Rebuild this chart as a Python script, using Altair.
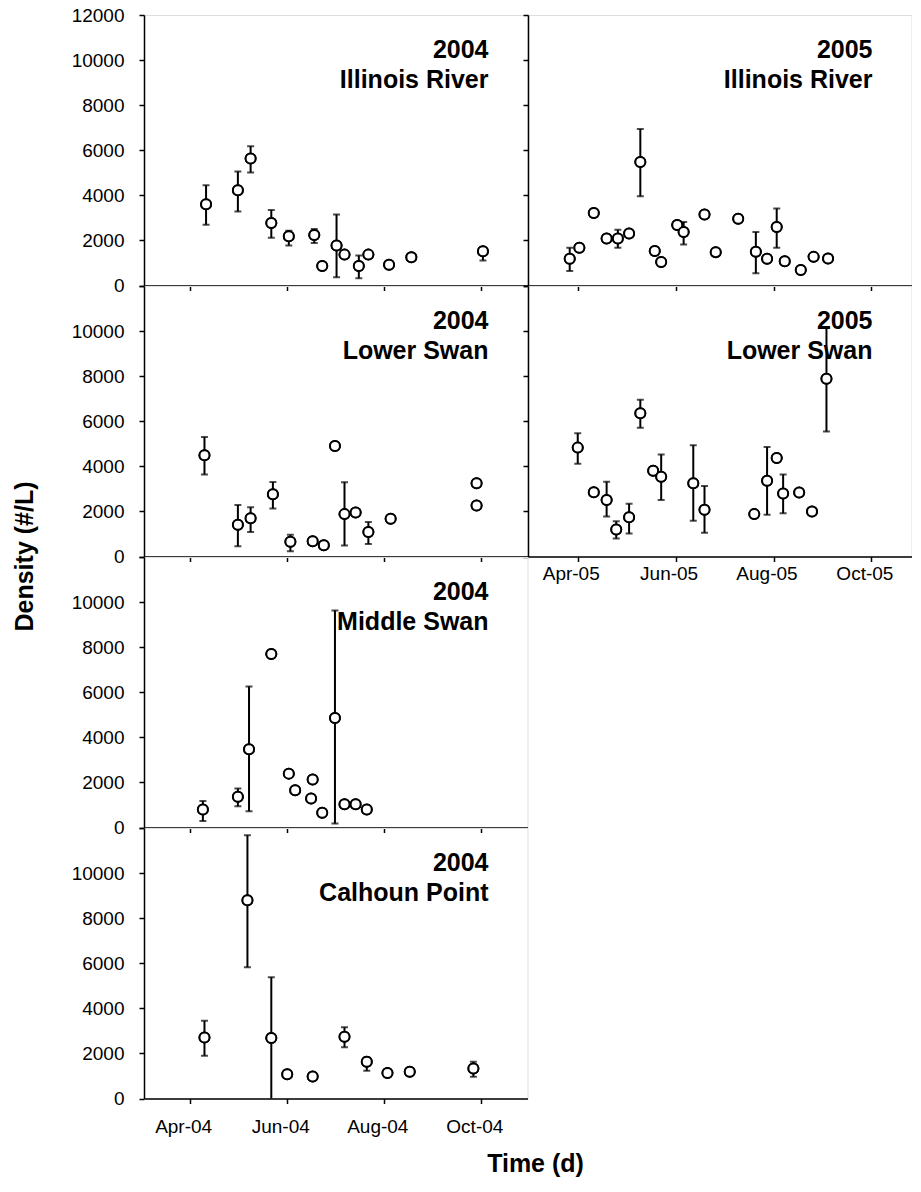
import altair as alt
import pandas as pd

# ---------------- data ----------------
il04_dates = ["2004-04-11", "2004-05-01", "2004-05-09", "2004-05-22", "2004-06-02", "2004-06-18",
              "2004-06-23", "2004-07-02", "2004-07-07", "2004-07-16", "2004-07-22", "2004-08-04",
              "2004-08-18", "2004-10-02"]
il04_vals = [3600, 4230, 5630, 2770, 2180, 2240, 860, 1770, 1370, 860, 1370, 920, 1250, 1520]
il04_lo = [2700, 3280, 5010, 2120, 1770, 1890, None, 370, None, 320, None, None, None, 1110]
il04_hi = [4450, 5060, 6180, 3350, 2430, 2510, None, 3150, None, 1330, None, None, None, 1700]

il05_dates = ["2005-03-27", "2005-04-02", "2005-04-11", "2005-04-19", "2005-04-26", "2005-05-03",
              "2005-05-10", "2005-05-19", "2005-05-23", "2005-06-02", "2005-06-06", "2005-06-19",
              "2005-06-26", "2005-07-10", "2005-07-21", "2005-07-28", "2005-08-03", "2005-08-08",
              "2005-08-18", "2005-08-26", "2005-09-04"]
il05_vals = [1190, 1670, 3220, 2090, 2090, 2310, 5480, 1530, 1040, 2680, 2370, 3150, 1480, 2960,
             1500, 1190, 2590, 1080, 690, 1270, 1200]
il05_lo = [640, None, None, None, 1670, None, 3960, None, None, None, 1820, None, None, None,
           540, None, 1670, None, None, None, None]
il05_hi = [1670, None, None, None, 2470, None, 6940, None, None, None, 2820, None, None, None,
           2370, None, 3420, None, None, None, None]

ls04_dates = ["2004-04-10", "2004-05-01", "2004-05-09", "2004-05-23", "2004-06-03", "2004-06-17",
              "2004-06-24", "2004-07-01", "2004-07-07", "2004-07-14", "2004-07-22", "2004-08-05",
              "2004-09-28", "2004-09-28"]
ls04_vals = [4490, 1410, 1700, 2760, 650, 675, 500, 4900, 1880, 1950, 1090, 1670, 3250, 2260]
ls04_lo = [3640, 455, 1090, 2130, 235, None, None, None, 485, None, 560, None, None, None]
ls04_hi = [5300, 2290, 2190, 3300, 970, None, None, None, 3290, None, 1530, None, None, None]

ls05_dates = ["2005-04-01", "2005-04-11", "2005-04-19", "2005-04-25", "2005-05-03", "2005-05-10",
              "2005-05-18", "2005-05-23", "2005-06-12", "2005-06-19", "2005-07-20", "2005-07-28",
              "2005-08-03", "2005-08-07", "2005-08-17", "2005-08-25", "2005-09-03"]
ls05_vals = [4830, 2850, 2510, 1200, 1740, 6350, 3800, 3540, 3250, 2070, 1880, 3360, 4370, 2800,
             2840, 2000, 7890]
ls05_lo = [4120, None, 1780, 800, 1020, 5710, None, 2510, 1590, 1050, None, 1850, None, 1920,
           None, None, 5550]
ls05_hi = [5470, None, 3320, 1560, 2340, 6950, None, 4520, 4930, 3130, None, 4860, None, 3640,
           None, None, 10160]

ms04_dates = ["2004-04-09", "2004-05-01", "2004-05-08", "2004-05-22", "2004-06-02", "2004-06-06",
              "2004-06-17", "2004-06-16", "2004-06-23", "2004-07-01", "2004-07-07", "2004-07-14",
              "2004-07-21"]
ms04_vals = [800, 1360, 3470, 7700, 2390, 1650, 2130, 1290, 650, 4860, 1030, 1030, 800]
ms04_lo = [290, 945, 720, None, None, None, None, None, None, 180, None, None, None]
ms04_hi = [1180, 1730, 6260, None, None, None, None, None, None, 9630, None, None, None]

cp04_dates = ["2004-04-10", "2004-05-07", "2004-05-22", "2004-06-01", "2004-06-17", "2004-07-07",
              "2004-07-21", "2004-08-03", "2004-08-17", "2004-09-26"]
cp04_vals = [2710, 8790, 2680, 1080, 980, 2740, 1630, 1130, 1190, 1330]
cp04_lo = [1900, 5820, -300, None, None, 2270, 1230, None, None, 965]
cp04_hi = [3450, 11680, 5380, None, None, 3160, 1820, None, None, 1630]

panel_years = ["2004", "2005", "2004", "2005", "2004", "2004"]
panel_sites = ["Illinois River", "Illinois River", "Lower Swan", "Lower Swan", "Middle Swan", "Calhoun Point"]
y_ticks = [0, 2000, 4000, 6000, 8000, 10000, 12000]
tick_months = [4, 6, 8, 10]

W = 383.5
H = 270.5
FONT = "Liberation Sans"


def make_df(dates, vals, lo, hi):
    return pd.DataFrame({
        "date": [d + "T00:00:00" for d in dates],
        "val": vals,
        "lo": lo,
        "hi": hi,
    })


def panel(df, idx, year, xdomain, show_xlabels, show_ylabels, top_label, xlabel_pad,
          ytitle=False, xtitle=False):
    xaxis_kw = dict(
        values=[alt.DateTime(year=year, month=m, date=1) for m in tick_months],
        format="%b-%y", labels=show_xlabels, tickSize=5, grid=False,
        labelFontSize=19, labelFont=FONT, labelOffset=-7, labelPadding=xlabel_pad,
        labelColor="black", domainColor="black", domainWidth=1.5,
        tickColor="black", tickWidth=1.5,
    )
    if xtitle:
        xaxis_kw.update(title="Time (d)", titleFont=FONT, titleFontSize=25,
                        titleFontWeight="bold", titleX=391, titleY=73,
                        titleAlign="center", titleBaseline="alphabetic", titleColor="black")
    else:
        xaxis_kw.update(title=None)
    yaxis_kw = dict(
        values=y_ticks, format="d", labels=show_ylabels, tickSize=5, grid=False,
        labelFontSize=19, labelFont=FONT, labelPadding=15, labelColor="black",
        domainColor="black", domainWidth=1.5, tickColor="black", tickWidth=1.5,
    )
    if not top_label:
        yaxis_kw["labelExpr"] = "datum.value == 12000 ? '' : datum.label"
    if ytitle:
        yaxis_kw.update(title="Density (#/L)", titleFont=FONT, titleFontSize=25,
                        titleFontWeight="bold", titleX=-120, titleY=541, titleAngle=270,
                        titleAlign="center", titleBaseline="middle", titleColor="black")
    else:
        yaxis_kw.update(title=None)

    x = alt.X("date:T", scale=alt.Scale(domain=xdomain), axis=alt.Axis(**xaxis_kw))
    yscale = alt.Scale(domain=[0, 12000], nice=False)
    y = alt.Y("val:Q", scale=yscale, axis=alt.Axis(**yaxis_kw))

    err = df.dropna(subset=["lo"])
    base_err = alt.Chart(err)
    rule = base_err.mark_rule(color="black", strokeWidth=2, clip=True).encode(
        x=alt.X("date:T"), y=alt.Y("lo:Q"), y2="hi:Q")
    cap_hi = base_err.mark_tick(color="black", orient="horizontal", size=7, thickness=2,
                                clip=True).encode(x=alt.X("date:T"), y=alt.Y("hi:Q"))
    cap_lo = base_err.mark_tick(color="black", orient="horizontal", size=7, thickness=2,
                                clip=True).encode(x=alt.X("date:T"), y=alt.Y("lo:Q"))
    pts = alt.Chart(df).mark_circle(fill="white", stroke="black", strokeWidth=2, size=100,
                                    opacity=1).encode(x=x, y=y)
    lab = pd.DataFrame({"year": [panel_years[idx]], "site": [panel_sites[idx]]})
    t1 = alt.Chart(lab).mark_text(align="right", baseline="alphabetic", font=FONT, fontSize=25,
                                  fontWeight="bold", color="black").encode(
        text="year:N", x=alt.value(W - 39), y=alt.value(43))
    t2 = alt.Chart(lab).mark_text(align="right", baseline="alphabetic", font=FONT, fontSize=25,
                                  fontWeight="bold", color="black").encode(
        text="site:N", x=alt.value(W - 39), y=alt.value(73))
    return alt.layer(pts, rule, cap_hi, cap_lo, pts, t1, t2).properties(width=W, height=H)


def blank():
    d = pd.DataFrame({"a": [0]})
    return alt.Chart(d).mark_point(opacity=0).encode(
        x=alt.X("a:Q", axis=None), y=alt.Y("a:Q", axis=None)
    ).properties(width=W, height=H, view=alt.ViewBackground(stroke="transparent"))


dom04 = [alt.DateTime(year=2004, month=3, date=3), alt.DateTime(year=2004, month=10, date=30)]
dom05 = [alt.DateTime(year=2005, month=3, date=1), alt.DateTime(year=2005, month=10, date=26)]

p_il04 = panel(make_df(il04_dates, il04_vals, il04_lo, il04_hi), 0, 2004, dom04,
               False, True, True, 14, ytitle=True)
p_il05 = panel(make_df(il05_dates, il05_vals, il05_lo, il05_hi), 1, 2005, dom05,
               False, False, False, 3)
p_ls04 = panel(make_df(ls04_dates, ls04_vals, ls04_lo, ls04_hi), 2, 2004, dom04,
               False, True, False, 14)
p_ls05 = panel(make_df(ls05_dates, ls05_vals, ls05_lo, ls05_hi), 3, 2005, dom05,
               True, False, False, 3)
p_ms04 = panel(make_df(ms04_dates, ms04_vals, ms04_lo, ms04_hi), 4, 2004, dom04,
               False, True, False, 14)
p_cp04 = panel(make_df(cp04_dates, cp04_vals, cp04_lo, cp04_hi), 5, 2004, dom04,
               True, True, False, 14, xtitle=True)

chart = alt.concat(
    p_il04, p_il05, p_ls04, p_ls05, p_ms04, blank(), p_cp04, blank(),
    columns=2, spacing=0, bounds="flush"
).properties(
    padding={"left": 3, "top": -3, "right": 0, "bottom": 0}
).configure_view(stroke="black", strokeWidth=1.5).configure(background="white")

chart.save("out.html", embed_options={"renderer": "svg", "actions": False})
